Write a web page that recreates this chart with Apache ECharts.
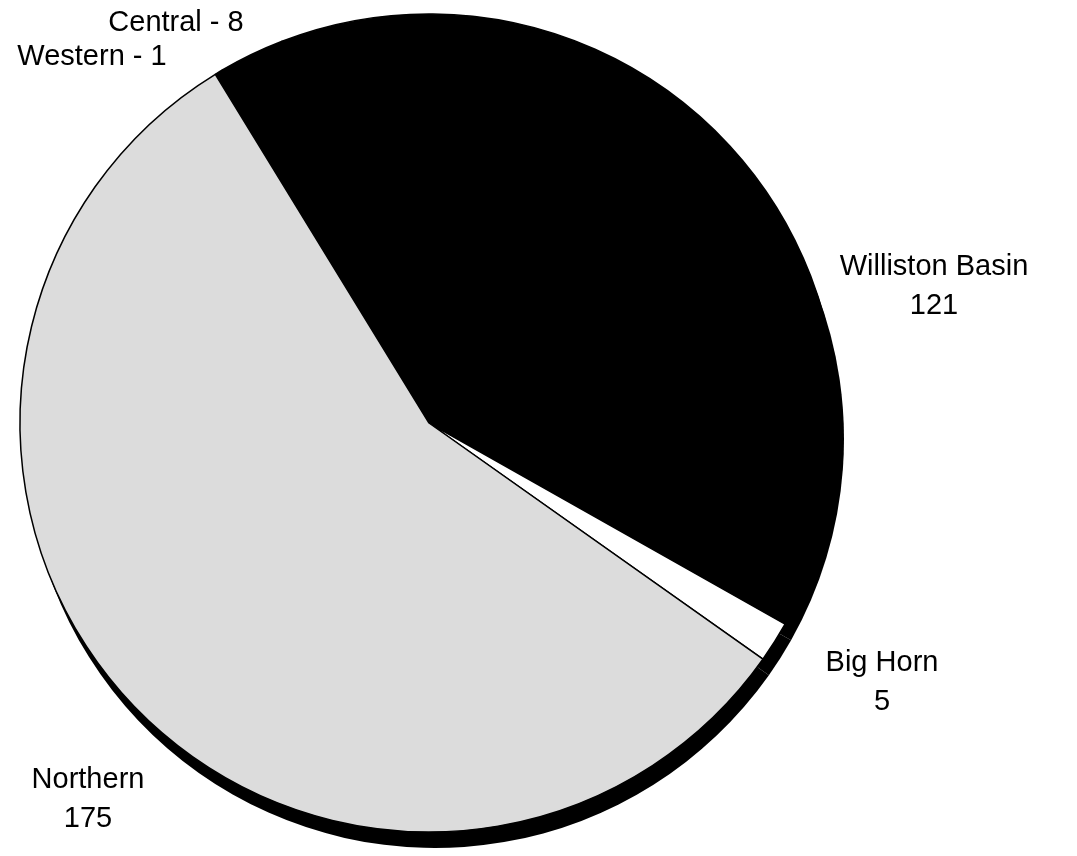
<!DOCTYPE html>
<html>
<head>
<meta charset="utf-8">
<script src="https://cdn.jsdelivr.net/npm/echarts@6/dist/echarts.min.js"></script>
<style>
  html, body { margin: 0; padding: 0; background: #fff; }
  #chart { width: 1077px; height: 856px; }
</style>
</head>
<body>
<div id="chart"></div>
<script>
// ---- data ----
const categories = ['Western', 'Central', 'Williston Basin', 'Big Horn', 'Northern'];
const values = [1, 8, 121, 5, 175];
const inlineLabel = ['Western', 'Central'];

// ---- styling / layout ----
const colors = ['#000000', '#000000', '#000000', '#ffffff', '#dcdcdc'];
const labelPos = [[92, 57], [176, 23], [934, 286], [882, 682], [88, 799]];

const pieCenter = [429, 423];
const pieRadius = 409;
const shadowOffset = [6, 16];

const chart = echarts.init(document.getElementById('chart'), null, { renderer: 'canvas' });

const mainData = categories.map((c, i) => ({
  name: c,
  value: values[i],
  itemStyle: { color: colors[i] }
}));
const shadowData = categories.map((c, i) => ({ name: c, value: values[i] }));

chart.setOption({
  animation: false,
  backgroundColor: '#ffffff',
  series: [
    {
      type: 'pie',
      silent: true,
      z: 1,
      center: [pieCenter[0] + shadowOffset[0], pieCenter[1] + shadowOffset[1]],
      radius: [0, pieRadius],
      startAngle: 121.5,
      clockwise: true,
      data: shadowData,
      itemStyle: { color: '#000', borderWidth: 0 },
      label: { show: false },
      labelLine: { show: false },
      emphasis: { disabled: true }
    },
    {
      type: 'pie',
      silent: true,
      z: 2,
      center: pieCenter,
      radius: [0, pieRadius],
      startAngle: 121.5,
      clockwise: true,
      avoidLabelOverlap: false,
      data: mainData,
      itemStyle: { borderColor: '#000', borderWidth: 1.5 },
      emphasis: { disabled: true },
      labelLine: { show: false },
      label: {
        show: true,
        position: 'outside',
        color: '#000',
        fontFamily: 'Liberation Sans, Arial, sans-serif',
        fontSize: 29,
        lineHeight: 39,
        align: 'center',
        formatter: function (p) {
          if (inlineLabel.indexOf(p.name) >= 0) return p.name + ' - ' + p.value;
          return p.name + '\n' + p.value;
        }
      },
      labelLayout: function (params) {
        const p = labelPos[params.dataIndex];
        return { x: p[0], y: p[1], align: 'center', verticalAlign: 'middle', hideOverlap: false };
      }
    }
  ]
});
</script>
</body>
</html>
